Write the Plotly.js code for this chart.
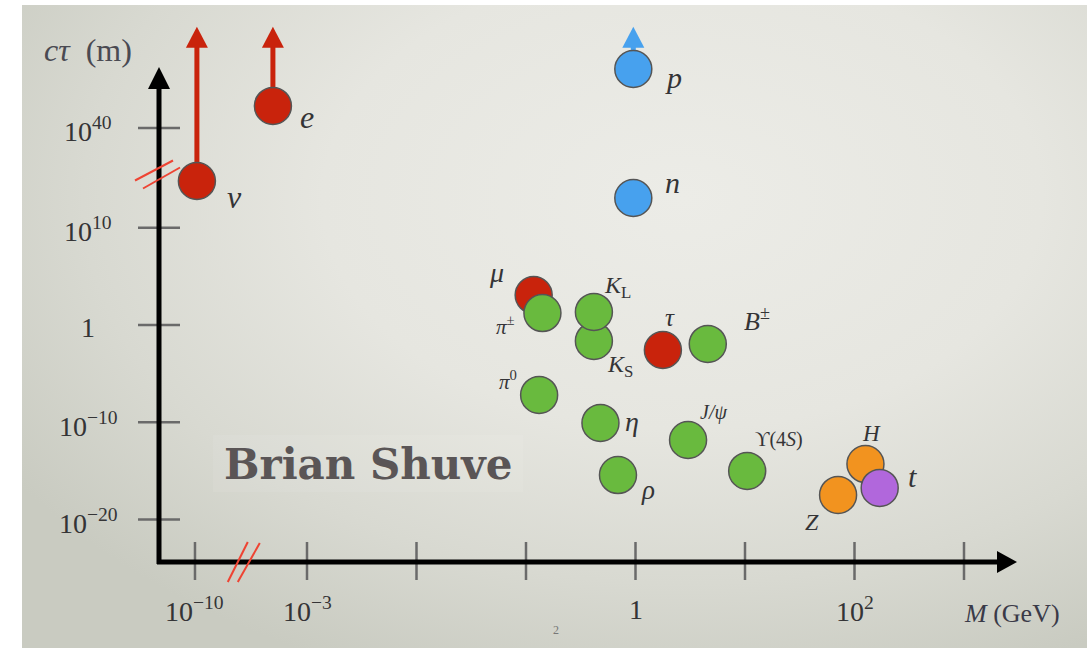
<!DOCTYPE html>
<html><head><meta charset="utf-8">
<script src="https://cdn.plot.ly/plotly-3.0.1.min.js"></script>
<style>
html,body{margin:0;padding:0;background:#fff;overflow:hidden;}
#bg{position:absolute;left:22px;top:5px;width:1065px;height:643px;
 background:radial-gradient(ellipse 75% 80% at 62% 30%, #ecece7 0%, #e6e6e0 45%, #d8d9d1 75%, #c9cbc1 100%);}
#chart{position:absolute;left:0;top:0;width:1087px;height:648px;}
</style></head><body><div id="bg"></div><div id="chart"></div>
<script>
// ---- data (log10 values; broken axes) ----
const particles = ['nu','e','p','n','mu','pipm','KS','KL','tau','Bpm','pi0','eta','Jpsi','rho','Ups4S','H','Z','t'];
const labels = ['<i>ν</i>','<i>e</i>','<i>p</i>','<i>n</i>','<i>μ</i>','<i>π</i><sup>±</sup>','<i>K</i><sub>S</sub>','<i>K</i><sub>L</sub>','<i>τ</i>','<i>B</i><sup>±</sup>','<i>π</i><sup>0</sup>','<i>η</i>','<i>J/ψ</i>','<i>ρ</i>','ϒ(4<i>S</i>)','<i>H</i>','<i>Z</i>','<i>t</i>'];
const logMass = [-9.88,-5.13,-0.02,-0.02,-0.93,-0.85,-0.38,-0.38,0.25,0.66,-0.88,-0.32,0.48,-0.16,1.02,2.1,1.85,2.23];
const logCtau = [24.05,42.26,46.06,18.93,3.08,1.23,-1.64,1.34,-2.57,-1.95,-7.19,-10.07,-11.82,-15.42,-15.0,-14.29,-17.47,-16.75];
const family = ['lepton','lepton','baryon','baryon','lepton','meson','meson','meson','lepton','meson','meson','meson','meson','meson','meson','boson','boson','quark'];
const lowerBoundOnly = [true,true,true,false,false,false,false,false,false,false,false,false,false,false,false,false,false,false];
const arrowTipLogCtau = 50.4;
const xTickVals = [-10,-3,-2,-1,0,1,2,3];
const xTickText = ['10<sup>−10</sup>','10<sup>−3</sup>','','','1','','10<sup>2</sup>',''];
const yTickVals = [40,10,0,-10,-20];
const yTickText = ['10<sup>40</sup>','10<sup>10</sup>','1','10<sup>−10</sup>','10<sup>−20</sup>'];

// ---- styles ----
const familyColor = {lepton:'#c9230c', baryon:'#47a1ee', meson:'#69ba3e', boson:'#f2931f', quark:'#b167dc'};
const labelStyle = {
 nu:{dx:38,dy:-16,s:32}, e:{dx:34,dy:-11,s:32}, p:{dx:40,dy:-8,s:30}, n:{dx:39,dy:16,s:30},
 mu:{dx:-37,dy:23,s:28}, pipm:{dx:-37,dy:-12,s:21}, KS:{dx:26,dy:-25,s:24}, KL:{dx:24,dy:25,s:24},
 tau:{dx:7,dy:33,s:25}, Bpm:{dx:49,dy:24,s:26}, pi0:{dx:-31,dy:14,s:21}, eta:{dx:32,dy:1,s:28},
 Jpsi:{dx:25,dy:28,s:20}, rho:{dx:30,dy:-15,s:27}, Ups4S:{dx:32,dy:31,s:20}, H:{dx:6,dy:31,s:23},
 Z:{dx:-26,dy:-27,s:24}, t:{dx:33,dy:11,s:30}
};
const SERIF = '"Liberation Serif", "DejaVu Serif", serif';
const TXT = '#343436';

// ---- broken-axis transforms (log value -> axis coordinate) ----
function xd(l){ return l >= -3 ? l : -3 + (l + 3) * (1.023 / 7); }
function yd(l){ if (l <= 10) return l; if (l >= 40) return l - 19.75; return 10 + (l - 10) * (10.25 / 30); }
const PX = 109.5, PY = 9.73; // pixels per axis unit
const xRange = [-635.5/PX, -635.5/PX + 1087/PX];
const yRange = [325/PY - 648/PY, 325/PY];
const yAxisX = xRange[0] + 159/PX;
const xAxisY = yRange[1] - 562/PY;
const yArrowTip = yRange[1] - 67/PY;
const xArrowTip = xRange[0] + 1017/PX;

const shapes = [];
function line(x0,y0,x1,y1,color,w,layer){ shapes.push({type:'line',x0,y0,x1,y1,xref:'x',yref:'y',layer:layer||'below',line:{color,width:w}}); }
function tri(pts,color,layer){ let d='M'+pts.map(p=>p[0]+','+p[1]).join('L')+'Z'; shapes.push({type:'path',path:d,xref:'x',yref:'y',layer:layer||'below',fillcolor:color,line:{width:0}}); }

// ticks
yTickVals.forEach(v=>line(yAxisX-21/PX, yd(v), yAxisX+21/PX, yd(v), '#6a6a6a', 2.5));
xTickVals.forEach(v=>line(xd(v), xAxisY-18/PY, xd(v), xAxisY+20/PY, '#6a6a6a', 2.5));
// axes
line(yAxisX, xAxisY-2/PY, yAxisX, yArrowTip-18/PY, '#000', 5);
line(yAxisX-2/PX, xAxisY, xArrowTip-18/PX, xAxisY, '#000', 5);
tri([[yAxisX, yArrowTip],[yAxisX-11/PX, yArrowTip-22/PY],[yAxisX+11/PX, yArrowTip-22/PY]], '#000');
tri([[xArrowTip, xAxisY],[xArrowTip-20/PX, xAxisY+11/PY],[xArrowTip-20/PX, xAxisY-11/PY]], '#000');
// break marks
const brY = yd(24.5);
line(yAxisX-24/PX, brY-1/PY, yAxisX+14/PX, brY+19/PY, '#ee4433', 2);
line(yAxisX-16/PX, brY-9/PY, yAxisX+21/PX, brY+12/PY, '#ee4433', 2);
const brX = xd(-7.2);
line(brX-12/PX, xAxisY-20/PY, brX+8/PX, xAxisY+20/PY, '#ee4433', 2);
line(brX-2/PX, xAxisY-20/PY, brX+20/PX, xAxisY+19/PY, '#ee4433', 2);
// watermark box
shapes.push({type:'rect',xref:'x',yref:'y',layer:'below',x0:xRange[0]+213/PX,x1:xRange[0]+523/PX,y0:yRange[1]-435/PY,y1:yRange[1]-492/PY,fillcolor:'rgba(255,255,255,0.07)',line:{width:0}});
// lower-bound arrows
particles.forEach((p,i)=>{
  if(!lowerBoundOnly[i]) return;
  const x = xd(logMass[i]), y0 = yd(logCtau[i]), tip = yd(arrowTipLogCtau);
  const c = familyColor[family[i]];
  line(x, y0, x, tip-18/PY, c, 5);
  tri([[x, tip],[x-11/PX, tip-21/PY],[x+11/PX, tip-21/PY]], c);
});

const annotations = [];
particles.forEach((p,i)=>{
  const st = labelStyle[p];
  annotations.push({x:xd(logMass[i]), y:yd(logCtau[i]), xref:'x', yref:'y', text:labels[i], showarrow:false,
    xshift:st.dx, yshift:st.dy, font:{family:SERIF, size:st.s, color:TXT}});
});
yTickVals.forEach((v,i)=>annotations.push({x:xRange[0]+88/PX, y:yd(v), xref:'x', yref:'y', text:yTickText[i], showarrow:false,
  font:{family:SERIF,size:28,color:TXT}, yshift:-2}));
xTickVals.forEach((v,i)=>{ if(!xTickText[i]) return; annotations.push({x:xd(v), y:yRange[1]-609/PY, xref:'x', yref:'y', text:xTickText[i], showarrow:false,
  font:{family:SERIF,size:28,color:TXT}}); });
annotations.push({x:xRange[0]+88/PX, y:yRange[1]-50/PY, xref:'x', yref:'y', text:'<i>cτ</i>  (m)', showarrow:false, font:{family:SERIF,size:32,color:'#4a4a52'}});
annotations.push({x:xRange[0]+1012/PX, y:yRange[1]-613/PY, xref:'x', yref:'y', text:'<i>M</i> (GeV)', showarrow:false, font:{family:SERIF,size:26,color:'#3a3a48'}});
annotations.push({x:xRange[0]+368/PX, y:yRange[1]-464/PY, xref:'x', yref:'y', text:'<b>Brian Shuve</b>', showarrow:false, font:{family:'"DejaVu Serif", serif',size:42,color:'#5a5556'}});
annotations.push({x:xRange[0]+556/PX, y:yRange[1]-630/PY, xref:'x', yref:'y', text:'2', showarrow:false, font:{family:SERIF,size:12,color:'#777'}});

const trace = {
  x: logMass.map(xd), y: logCtau.map(yd), mode:'markers', type:'scatter', hoverinfo:'skip',
  marker:{size:37, color: family.map(f=>familyColor[f]), line:{color:'#555555', width:1.5}}
};
Plotly.newPlot('chart',[trace],{
  width:1087, height:648, margin:{l:0,r:0,t:0,b:0},
  paper_bgcolor:'rgba(0,0,0,0)', plot_bgcolor:'rgba(0,0,0,0)',
  xaxis:{range:xRange, visible:false, fixedrange:true},
  yaxis:{range:yRange, visible:false, fixedrange:true},
  showlegend:false, shapes, annotations
},{staticPlot:true});
</script></body></html>
